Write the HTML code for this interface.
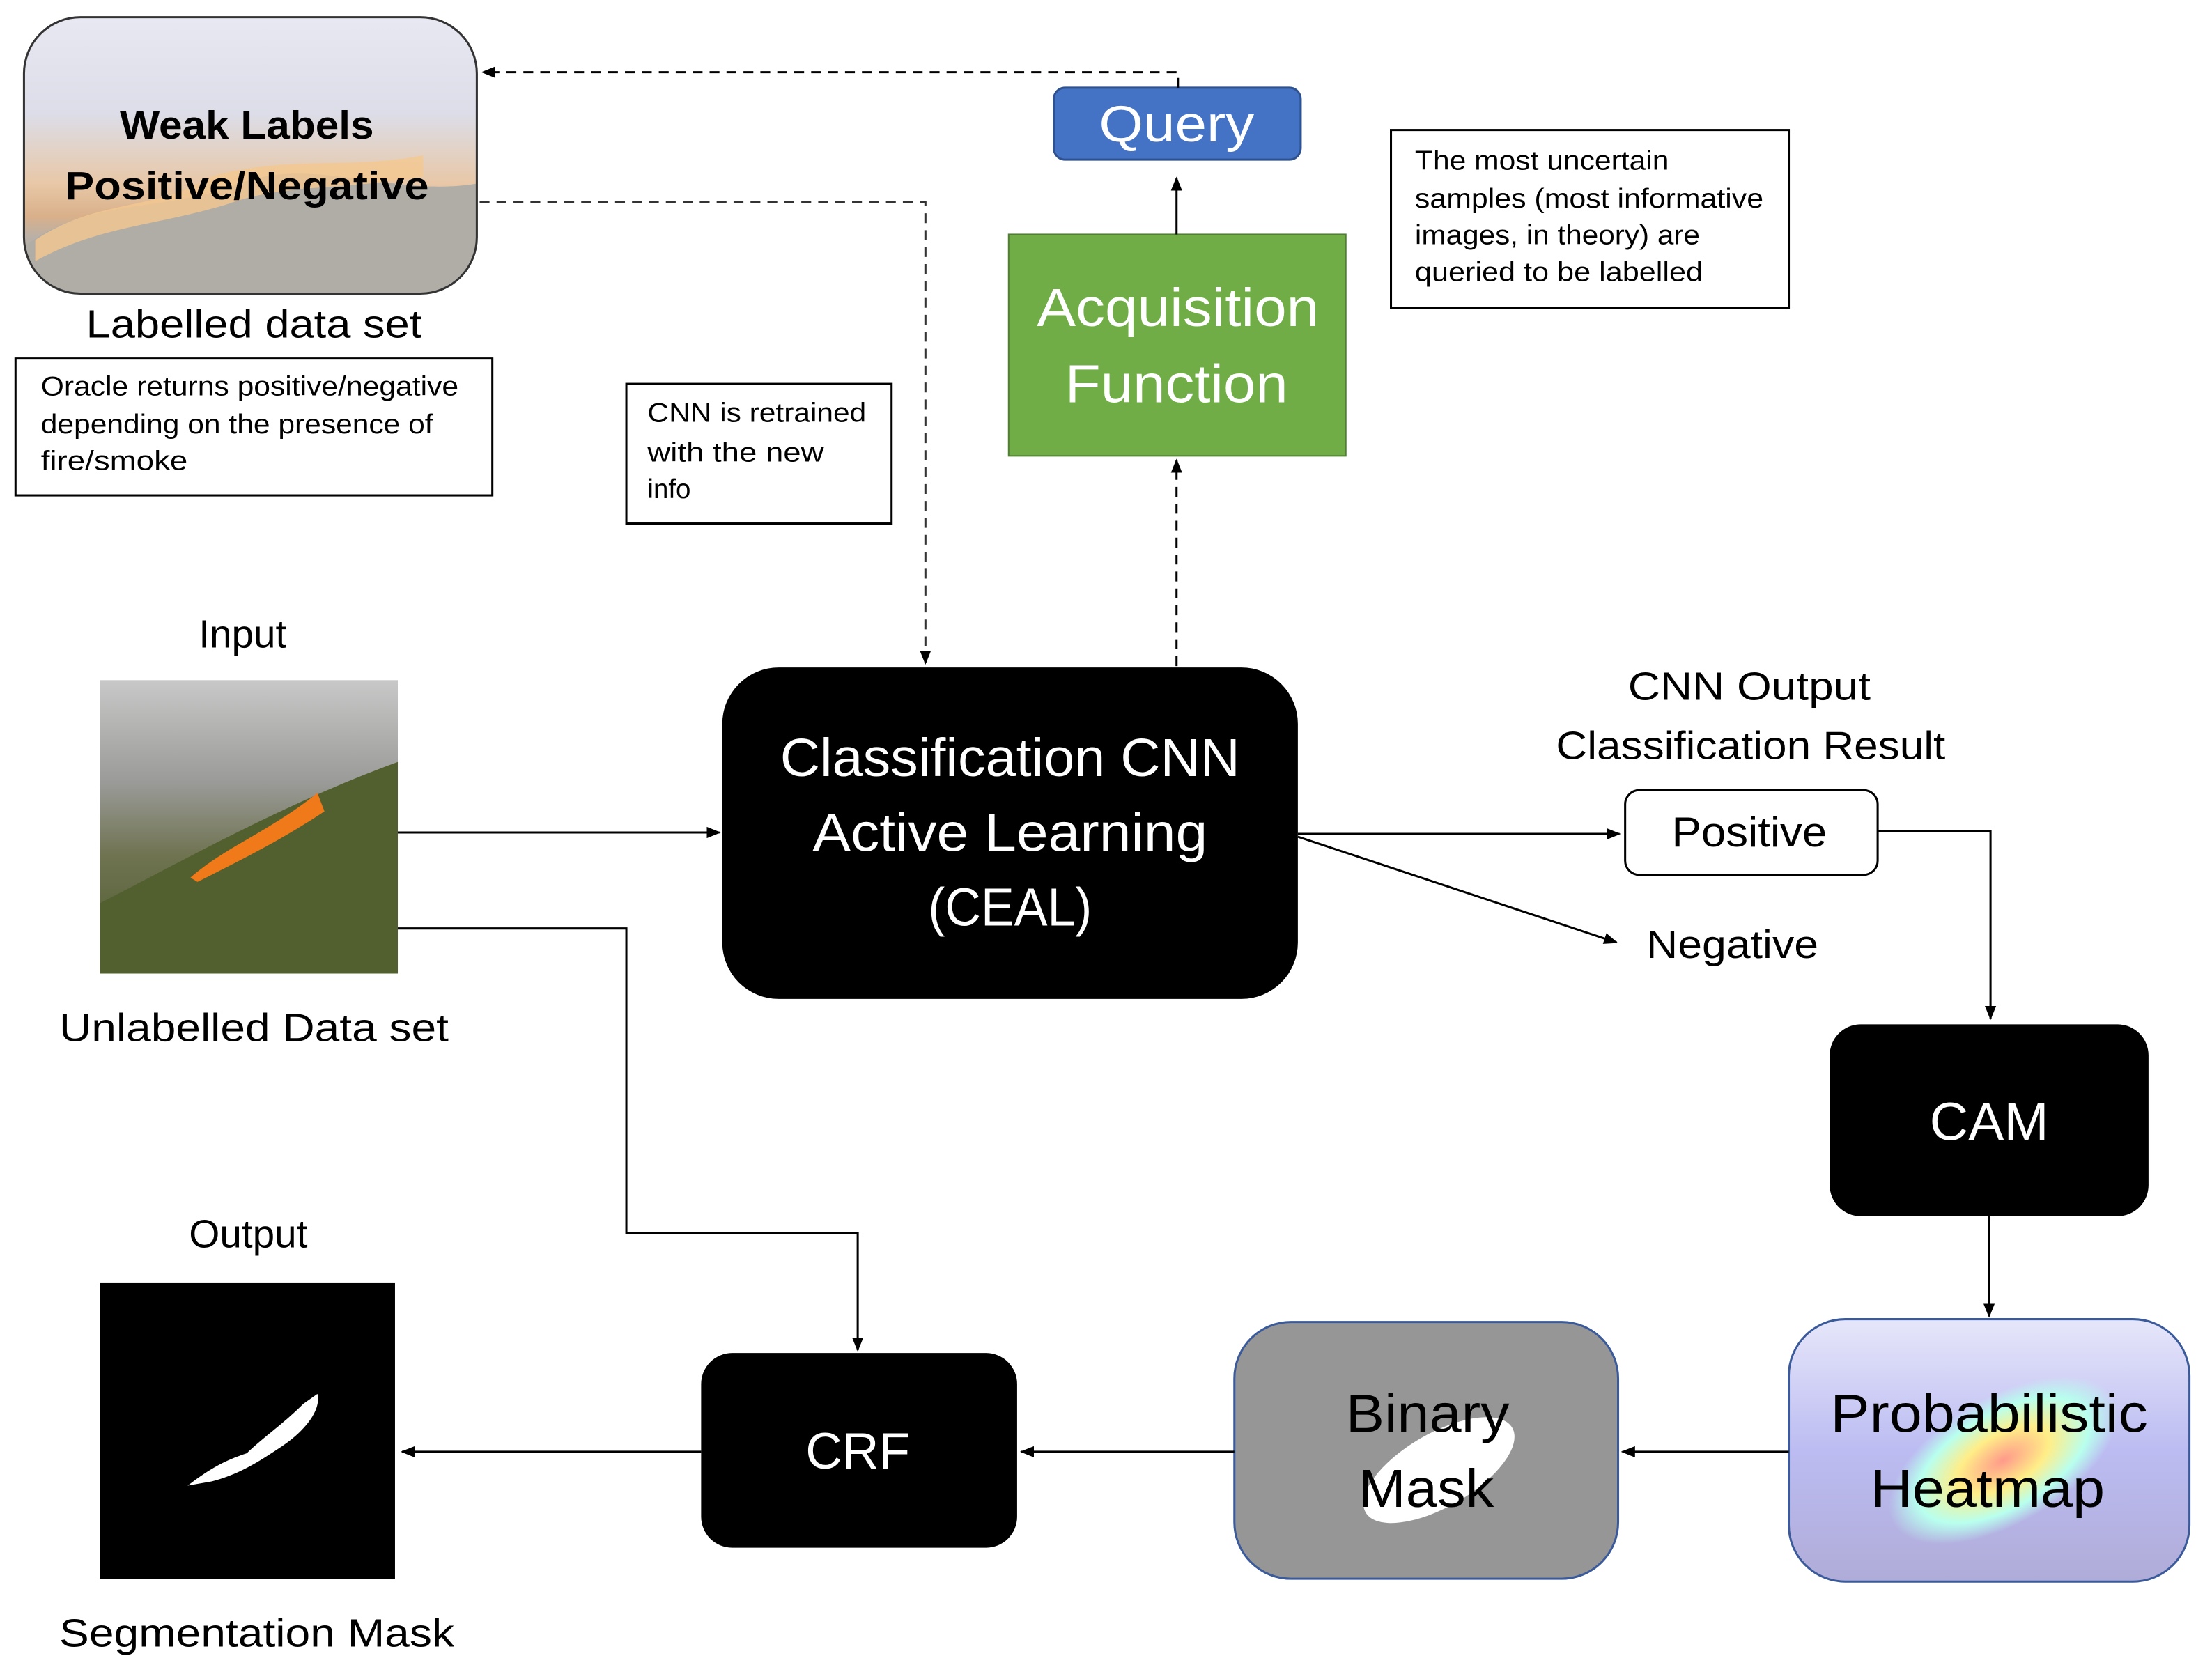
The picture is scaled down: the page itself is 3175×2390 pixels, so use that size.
<!DOCTYPE html>
<html><head><meta charset="utf-8"><style>
html,body{margin:0;padding:0;background:#fff;}
svg{display:block;}
text{font-family:"Liberation Sans",sans-serif;}
</style></head><body>
<svg width="3175" height="2390" viewBox="0 0 1568 1180" xmlns="http://www.w3.org/2000/svg">
<defs>
<marker id="ah" viewBox="0 0 10 10" refX="9" refY="5" markerWidth="10" markerHeight="10" markerUnits="userSpaceOnUse" orient="auto"><path d="M0,1 L10,5 L0,9 z" fill="#000"/></marker>
<linearGradient id="fire" x1="0" y1="0" x2="0" y2="1">
<stop offset="0" stop-color="#e8e8f2"/><stop offset="0.35" stop-color="#dcdde8"/><stop offset="0.6" stop-color="#e8c8a8"/><stop offset="0.72" stop-color="#d9b08a"/><stop offset="0.8" stop-color="#b8b0a8"/><stop offset="1" stop-color="#a8a8a4"/></linearGradient>
<linearGradient id="inp" x1="0" y1="0" x2="0" y2="1">
<stop offset="0" stop-color="#c8c8c8"/><stop offset="0.35" stop-color="#9a9a98"/><stop offset="0.6" stop-color="#6f7350"/><stop offset="1" stop-color="#4a5a2e"/></linearGradient>
<linearGradient id="heat" x1="0" y1="0" x2="0" y2="1">
<stop offset="0" stop-color="#e6e6fa"/><stop offset="0.5" stop-color="#bcbcf2"/><stop offset="1" stop-color="#b0acd8"/></linearGradient>
<radialGradient id="hot" cx="0.5" cy="0.5" r="0.5"><stop offset="0" stop-color="#ff9a8a"/><stop offset="0.4" stop-color="#ffee88"/><stop offset="0.75" stop-color="#b8ffee"/><stop offset="1" stop-color="#b8ffee" stop-opacity="0"/></radialGradient>
<clipPath id="cw"><rect x="17" y="12" width="321" height="196" rx="40"/></clipPath>
</defs>

<!-- Weak labels box -->
<g clip-path="url(#cw)">
<rect x="17" y="12" width="321" height="196" fill="url(#fire)"/>
<path d="M17,175 C60,140 120,150 170,130 C220,110 280,140 338,130 L338,208 L17,208 z" fill="#b0aca6"/>
<path d="M25,170 C70,140 110,150 150,125 C200,110 250,120 300,110 L300,125 C240,135 200,130 160,145 C110,160 70,160 25,185 z" fill="#f4c890" opacity="0.8"/>
</g>
<rect x="17" y="12" width="321" height="196" rx="40" fill="none" stroke="#333" stroke-width="1.5"/>
<text x="175" y="98" font-size="28" font-weight="bold" text-anchor="middle" textLength="180" lengthAdjust="spacingAndGlyphs">Weak Labels</text>
<text x="175" y="141" font-size="28" font-weight="bold" text-anchor="middle" textLength="258" lengthAdjust="spacingAndGlyphs">Positive/Negative</text>
<text x="180" y="239" font-size="28" text-anchor="middle" textLength="238" lengthAdjust="spacingAndGlyphs">Labelled data set</text>

<rect x="11" y="254" width="338" height="97" fill="#fff" stroke="#000" stroke-width="1.5"/>
<text font-size="19"><tspan x="29" y="280" textLength="296" lengthAdjust="spacingAndGlyphs">Oracle returns positive/negative</tspan><tspan x="29" y="307" textLength="278" lengthAdjust="spacingAndGlyphs">depending on the presence of</tspan><tspan x="29" y="333" textLength="104" lengthAdjust="spacingAndGlyphs">fire/smoke</tspan></text>

<rect x="444" y="272" width="188" height="99" fill="#fff" stroke="#000" stroke-width="1.5"/>
<text font-size="19"><tspan x="459" y="299" textLength="155" lengthAdjust="spacingAndGlyphs">CNN is retrained</tspan><tspan x="459" y="327" textLength="125" lengthAdjust="spacingAndGlyphs">with the new</tspan><tspan x="459" y="353">info</tspan></text>

<rect x="986" y="92" width="282" height="126" fill="#fff" stroke="#000" stroke-width="1.5"/>
<text font-size="19"><tspan x="1003" y="120" textLength="180" lengthAdjust="spacingAndGlyphs">The most uncertain</tspan><tspan x="1003" y="147" textLength="247" lengthAdjust="spacingAndGlyphs">samples (most informative</tspan><tspan x="1003" y="173" textLength="202" lengthAdjust="spacingAndGlyphs">images, in theory) are</tspan><tspan x="1003" y="199" textLength="204" lengthAdjust="spacingAndGlyphs">queried to be labelled</tspan></text>

<!-- Query -->
<rect x="747" y="62" width="175" height="51" rx="8" fill="#4472C4" stroke="#2f528f" stroke-width="1.5"/>
<text x="834" y="100" font-size="36" fill="#fff" text-anchor="middle" textLength="110" lengthAdjust="spacingAndGlyphs">Query</text>
<path d="M835,62 V51 H342" fill="none" stroke="#000" stroke-width="1.5" stroke-dasharray="7,5" marker-end="url(#ah)"/>
<path d="M340,143 H656 V470" fill="none" stroke="#333" stroke-width="1.5" stroke-dasharray="7,5" marker-end="url(#ah)"/>

<!-- Acquisition -->
<rect x="715" y="166" width="239" height="157" fill="#70AD47" stroke="#507e32" stroke-width="1"/>
<text x="835" y="231" font-size="38" fill="#fff" text-anchor="middle" textLength="200" lengthAdjust="spacingAndGlyphs">Acquisition</text>
<text x="834" y="285" font-size="38" fill="#fff" text-anchor="middle" textLength="158" lengthAdjust="spacingAndGlyphs">Function</text>
<path d="M834,166 V126" stroke="#000" stroke-width="1.5" marker-end="url(#ah)"/>
<path d="M834,472 V326" stroke="#000" stroke-width="1.5" stroke-dasharray="7,5" marker-end="url(#ah)"/>

<!-- Input -->
<text x="172" y="459" font-size="28" text-anchor="middle">Input</text>
<rect x="71" y="482" width="211" height="208" fill="url(#inp)"/>
<path d="M71,690 L71,640 C130,610 200,570 282,540 L282,690 z" fill="#52602f"/>
<path d="M135,622 C160,600 190,590 225,562 L230,575 C200,595 170,610 140,625 z" fill="#f07a1a"/>
<text x="180" y="738" font-size="28" text-anchor="middle" textLength="276" lengthAdjust="spacingAndGlyphs">Unlabelled Data set</text>

<!-- CNN -->
<rect x="512" y="473" width="408" height="235" rx="40" fill="#000"/>
<text fill="#fff" font-size="38" text-anchor="middle"><tspan x="716" y="550" textLength="326" lengthAdjust="spacingAndGlyphs">Classification CNN</tspan><tspan x="716" y="603" textLength="280" lengthAdjust="spacingAndGlyphs">Active Learning</tspan><tspan x="716" y="656" textLength="116" lengthAdjust="spacingAndGlyphs">(CEAL)</tspan></text>
<path d="M282,590 H510" stroke="#000" stroke-width="1.5" marker-end="url(#ah)"/>
<path d="M282,658 H444 V874 H608 V957" fill="none" stroke="#000" stroke-width="1.5" marker-end="url(#ah)"/>

<text x="1240" y="496" font-size="28" text-anchor="middle" textLength="172" lengthAdjust="spacingAndGlyphs">CNN Output</text>
<text x="1241" y="538" font-size="28" text-anchor="middle" textLength="276" lengthAdjust="spacingAndGlyphs">Classification Result</text>
<rect x="1152" y="560" width="179" height="60" rx="10" fill="#fff" stroke="#000" stroke-width="1.5"/>
<text x="1240" y="600" font-size="30" text-anchor="middle" textLength="110" lengthAdjust="spacingAndGlyphs">Positive</text>
<path d="M920,591 H1148" stroke="#000" stroke-width="1.5" marker-end="url(#ah)"/>
<path d="M920,593 L1146,668" stroke="#000" stroke-width="1.5" marker-end="url(#ah)"/>
<text x="1228" y="679" font-size="28" text-anchor="middle" textLength="122" lengthAdjust="spacingAndGlyphs">Negative</text>
<path d="M1331,589 H1411 V722" fill="none" stroke="#000" stroke-width="1.5" marker-end="url(#ah)"/>

<rect x="1297" y="726" width="226" height="136" rx="22" fill="#000"/>
<text x="1410" y="808" font-size="38" fill="#fff" text-anchor="middle">CAM</text>
<path d="M1410,862 V933" stroke="#000" stroke-width="1.5" marker-end="url(#ah)"/>

<!-- Heatmap -->
<rect x="1268" y="935" width="284" height="186" rx="40" fill="url(#heat)" stroke="#3a5a9a" stroke-width="1.5"/>
<ellipse cx="1420" cy="1035" rx="90" ry="45" transform="rotate(-30 1420 1035)" fill="url(#hot)"/>
<text x="1410" y="1015" font-size="38" text-anchor="middle" textLength="225" lengthAdjust="spacingAndGlyphs">Probabilistic</text>
<text x="1409" y="1068" font-size="38" text-anchor="middle" textLength="166" lengthAdjust="spacingAndGlyphs">Heatmap</text>

<!-- Binary mask -->
<rect x="875" y="937" width="272" height="182" rx="40" fill="#969696" stroke="#3a5a9a" stroke-width="1.5"/>
<ellipse cx="1020" cy="1042" rx="60" ry="26" transform="rotate(-30 1020 1042)" fill="#fff"/>
<text x="1012" y="1015" font-size="38" text-anchor="middle" textLength="116" lengthAdjust="spacingAndGlyphs">Binary</text>
<text x="1011" y="1068" font-size="38" text-anchor="middle" textLength="96" lengthAdjust="spacingAndGlyphs">Mask</text>
<path d="M1268,1029 H1150" stroke="#000" stroke-width="1.5" marker-end="url(#ah)"/>
<path d="M875,1029 H724" stroke="#000" stroke-width="1.5" marker-end="url(#ah)"/>

<rect x="497" y="959" width="224" height="138" rx="22" fill="#000"/>
<text x="608" y="1041" font-size="36" fill="#fff" text-anchor="middle">CRF</text>
<path d="M497,1029 H285" stroke="#000" stroke-width="1.5" marker-end="url(#ah)"/>

<!-- Output -->
<text x="176" y="884" font-size="28" text-anchor="middle">Output</text>
<rect x="71" y="909" width="209" height="210" fill="#000"/>
<path d="M133,1053 C150,1040 160,1035 175,1030 C185,1020 200,1010 215,995 L225,988 C228,1000 215,1015 200,1025 C185,1035 170,1045 150,1050 z" fill="#fff"/>
<text x="182" y="1167" font-size="28" text-anchor="middle" textLength="280" lengthAdjust="spacingAndGlyphs">Segmentation Mask</text>
</svg>
</body></html>
